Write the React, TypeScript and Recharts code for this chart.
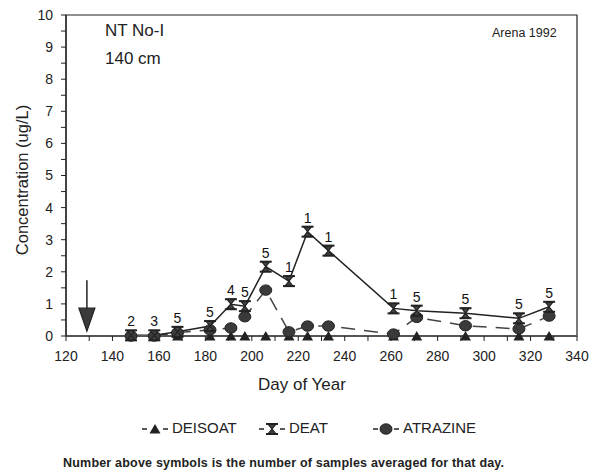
import { LineChart, Line, XAxis, YAxis, ReferenceArea, ReferenceLine, ReferenceDot, LabelList } from 'recharts'

const DAYS = [148, 158, 168, 182, 191, 197, 206, 216, 224, 233, 261, 271, 292, 315, 328]
const DEAT = [0.02, 0.02, 0.13, 0.31, 0.99, 0.93, 2.16, 1.71, 3.25, 2.66, 0.86, 0.79, 0.71, 0.55, 0.91]
const ATRAZINE = [0, 0, 0.1, 0.19, 0.25, 0.6, 1.43, 0.13, 0.31, 0.31, 0.06, 0.58, 0.32, 0.22, 0.62]
const DEISOAT = [0, 0, 0, 0, 0, 0, 0, 0, 0, 0, 0, 0, 0, 0, 0]
const COUNTS = [2, 3, 5, 5, 4, 5, 5, 1, 1, 1, 1, 5, 5, 5, 5]

const X_TICKS = [120, 130, 140, 150, 160, 170, 180, 190, 200, 210, 220, 230, 240, 250, 260, 270, 280, 290, 300, 310, 320, 330, 340]
const Y_TICKS = [0, 0.5, 1, 1.5, 2, 2.5, 3, 3.5, 4, 4.5, 5, 5.5, 6, 6.5, 7, 7.5, 8, 8.5, 9, 9.5, 10]

// application day marker
const ARROW_DAY = 129
const ARROW_TOP = 1.74
const ARROW_TIP = 0.15

const data = DAYS.map((d, i) => ({
  day: d,
  deat: DEAT[i],
  atrazine: ATRAZINE[i],
  deisoat: DEISOAT[i],
  n: COUNTS[i],
}))

const INK = '#222'
const FONT = 'Liberation Sans, Arial, sans-serif'

function Hourglass({ cx, cy }: { cx?: number; cy?: number }) {
  if (cx == null || cy == null) return null
  return (
    <g>
      <polygon points={`${cx - 4},${cy - 5} ${cx + 4},${cy - 5} ${cx - 4},${cy + 5} ${cx + 4},${cy + 5}`} fill="#444" stroke={INK} strokeWidth={1.2} />
      <line x1={cx - 6} y1={cy - 5} x2={cx + 6} y2={cy - 5} stroke={INK} strokeWidth={2} />
      <line x1={cx - 6} y1={cy + 5} x2={cx + 6} y2={cy + 5} stroke={INK} strokeWidth={2} />
    </g>
  )
}

function Circle({ cx, cy }: { cx?: number; cy?: number }) {
  if (cx == null || cy == null) return null
  return <ellipse cx={cx} cy={cy} rx={6} ry={5.2} fill="#3a3a3a" stroke={INK} strokeWidth={1} />
}

function Tri({ cx, cy }: { cx?: number; cy?: number }) {
  if (cx == null || cy == null) return null
  return <polygon points={`${cx - 5.5},${cy + 4.5} ${cx + 5.5},${cy + 4.5} ${cx},${cy - 5}`} fill={INK} />
}

function CountLabel(props: any) {
  const { x, y, value } = props
  return (
    <text x={x} y={y - 9} textAnchor="middle" fontSize={14} fontFamily={FONT} fill="#111" stroke="none">
      {value}
    </text>
  )
}

function ArrowHead(props: any) {
  const { cx, cy } = props
  return <polygon points={`${cx - 8},${cy - 23} ${cx + 8},${cy - 23} ${cx},${cy}`} fill="#3a3a3a" stroke={INK} strokeWidth={1.2} />
}

function LegendIcon({ kind }: { kind: 'tri' | 'hg' | 'circ' }) {
  return (
    <svg width={26} height={14} style={{ verticalAlign: 'middle', marginRight: 4 }}>
      <line x1={0} y1={7} x2={5} y2={7} stroke={INK} strokeWidth={1.5} />
      <line x1={21} y1={7} x2={26} y2={7} stroke={INK} strokeWidth={1.5} />
      {kind === 'tri' && <Tri cx={13} cy={7} />}
      {kind === 'hg' && <Hourglass cx={13} cy={7} />}
      {kind === 'circ' && <Circle cx={13} cy={7} />}
    </svg>
  )
}

const abs = (left: number, top: number, extra: React.CSSProperties = {}): React.CSSProperties => ({
  position: 'absolute', left, top, fontFamily: FONT, color: INK, whiteSpace: 'nowrap', ...extra,
})

export default function App() {
  return (
    <div style={{ position: 'fixed', left: 0, top: 0, width: 600, height: 476, background: '#fff' }}>
      <LineChart width={600} height={400} data={data} margin={{ top: 15, right: 23, left: 0, bottom: 0 }}>
        <XAxis
          dataKey="day"
          type="number"
          domain={[120, 340]}
          ticks={X_TICKS}
          interval={0}
          tickFormatter={v => (v % 20 === 0 ? String(v) : '')}
          tick={{ fill: INK, fontSize: 14, fontFamily: FONT }}
          tickSize={5}
          tickMargin={10}
          height={64}
          axisLine={{ stroke: '#555', strokeWidth: 2 }}
          tickLine={{ stroke: INK }}
        />
        <YAxis
          type="number"
          domain={[0, 10]}
          ticks={Y_TICKS}
          interval={0}
          tickFormatter={v => (Number.isInteger(v) ? String(v) : '')}
          tick={{ fill: INK, fontSize: 14, fontFamily: FONT }}
          tickSize={5}
          tickMargin={8}
          width={66}
          axisLine={{ stroke: INK, strokeWidth: 1.2 }}
          tickLine={{ stroke: INK }}
        />
        <ReferenceArea x1={120} x2={340} y1={0} y2={10} fill="none" stroke={INK} strokeWidth={1.2} />
        <ReferenceLine segment={[{ x: ARROW_DAY, y: ARROW_TOP }, { x: ARROW_DAY, y: ARROW_TIP + 0.5 }]} stroke={INK} strokeWidth={1.5} />
        <ReferenceDot x={ARROW_DAY} y={ARROW_TIP} r={0} shape={ArrowHead} />
        <Line
          dataKey="deisoat"
          stroke="#666"
          strokeWidth={1.2}
          strokeDasharray="12 8"
          dot={<Tri />}
          isAnimationActive={false}
        />
        <Line
          dataKey="atrazine"
          stroke="#444"
          strokeWidth={1.5}
          strokeDasharray="14 9"
          dot={<Circle />}
          isAnimationActive={false}
        />
        <Line
          dataKey="deat"
          stroke={INK}
          strokeWidth={1.5}
          dot={<Hourglass />}
          isAnimationActive={false}
        >
          <LabelList dataKey="n" content={CountLabel} />
        </Line>
      </LineChart>

      <div style={abs(105, 21, { fontSize: 17 })}>NT No-I</div>
      <div style={abs(105, 49, { fontSize: 17 })}>140 cm</div>
      <div style={abs(492, 26, { fontSize: 12.5 })}>Arena 1992</div>

      <div style={abs(22, 180, { fontSize: 16.5, transform: 'translate(-50%, -50%) rotate(-90deg)' })}>
        Concentration (ug/L)
      </div>
      <div style={abs(302, 385, { fontSize: 17, transform: 'translate(-50%, -50%)' })}>Day of Year</div>

      <div style={abs(142, 419, { fontSize: 15 })}>
        <LegendIcon kind="tri" />DEISOAT
      </div>
      <div style={abs(259, 419, { fontSize: 15 })}>
        <LegendIcon kind="hg" />DEAT
      </div>
      <div style={abs(373, 419, { fontSize: 15 })}>
        <LegendIcon kind="circ" />ATRAZINE
      </div>

      <div style={abs(63, 456, { fontSize: 12.5, fontWeight: 'bold', letterSpacing: 0.2 })}>
        Number above symbols is the number of samples averaged for that day.
      </div>
    </div>
  )
}
